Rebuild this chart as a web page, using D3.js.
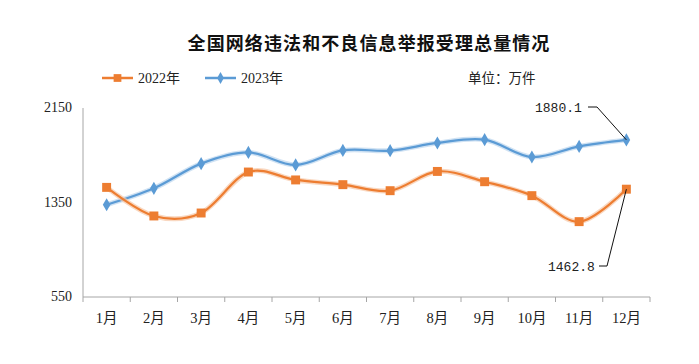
<!DOCTYPE html>
<html lang="zh">
<head>
<meta charset="utf-8">
<title>举报受理总量</title>
<script src="https://d3js.org/d3.v7.min.js"></script>
<style>
  body { margin: 0; background: #fff; }
  svg { display: block; }
</style>
</head>
<body>
<div id="chart"></div>
<script>

// data (万件)
var months = ["1月","2月","3月","4月","5月","6月","7月","8月","9月","10月","11月","12月"];
var y2022 = [1478, 1236, 1261, 1608, 1541, 1501, 1450, 1613, 1526, 1408, 1188, 1462.8];
var y2023 = [1331, 1470, 1679, 1774, 1668, 1791, 1789, 1854, 1882, 1735, 1825, 1880.1];
var yTicks = [550, 1350, 2150];

var W = 699, H = 364;
var margin = {top: 108, right: 49, bottom: 67, left: 83},
    width = W - margin.left - margin.right,
    height = H - margin.top - margin.bottom;

var svg = d3.select("#chart").append("svg")
    .attr("width", W)
    .attr("height", H);

var g = svg.append("g")
    .attr("transform", "translate(" + margin.left + "," + margin.top + ")");

// scales
var x = d3.scaleBand().domain(months).range([0, width]);
var y = d3.scaleLinear().domain([550, 2150]).range([height, 0]);

var serif = "'Liberation Serif','Noto Sans CJK SC',serif";

// title
svg.append("text")
    .attr("x", 369).attr("y", 50)
    .attr("text-anchor", "middle")
    .style("font-family", "'Noto Sans CJK SC',sans-serif")
    .style("font-weight", "bold")
    .style("font-size", "18px")
    .style("letter-spacing", "1.1px")
    .style("fill", "#111")
    .text("全国网络违法和不良信息举报受理总量情况");

// legend
var legend = [
  {name: "2022年", color: "#ED7D31", shape: d3.symbolSquare, size: 60, x: 102},
  {name: "2023年", color: "#5B9BD5", shape: d3.symbolDiamond, size: 40, x: 205}
];
var lg = svg.selectAll(".lg").data(legend).enter().append("g")
    .attr("transform", function(d) { return "translate(" + d.x + ",78)"; });
lg.append("line")
    .attr("x1", 0).attr("x2", 31)
    .attr("stroke", function(d) { return d.color; })
    .attr("stroke-width", 2.5);
lg.append("path")
    .attr("transform", "translate(15.5,0)")
    .attr("d", function(d) { return d3.symbol().type(d.shape).size(d.size)(); })
    .attr("fill", function(d) { return d.color; });
lg.append("text")
    .attr("x", 36).attr("y", 5)
    .style("font-family", serif)
    .style("font-size", "14px")
    .style("fill", "#222")
    .text(function(d) { return d.name; });

svg.append("text")
    .attr("x", 468).attr("y", 83)
    .style("font-family", "'Noto Sans CJK SC',sans-serif")
    .style("font-size", "13.5px")
    .style("fill", "#222")
    .text("单位：万件");

// axes
g.append("line")
    .attr("x1", 0).attr("x2", 0).attr("y1", 0).attr("y2", height)
    .attr("stroke", "#a6a6a6");
g.append("line")
    .attr("x1", 0).attr("x2", width).attr("y1", height).attr("y2", height)
    .attr("stroke", "#a6a6a6");
g.selectAll(".xtick")
    .data(d3.range(months.length + 1))
    .enter().append("line")
    .attr("x1", function(i) { return i * x.bandwidth(); })
    .attr("x2", function(i) { return i * x.bandwidth(); })
    .attr("y1", height).attr("y2", height + 5)
    .attr("stroke", "#a6a6a6");

g.selectAll(".ylab")
    .data(yTicks)
    .enter().append("text")
    .attr("x", -11)
    .attr("y", function(d) { return y(d) + 4; })
    .attr("text-anchor", "end")
    .style("font-family", serif)
    .style("font-size", "14px")
    .style("fill", "#222")
    .text(function(d) { return d; });

g.selectAll(".xlab")
    .data(months)
    .enter().append("text")
    .attr("x", function(d) { return x(d) + x.bandwidth() / 2; })
    .attr("y", height + 26)
    .attr("text-anchor", "middle")
    .style("font-family", serif)
    .style("font-size", "14.5px")
    .style("fill", "#222")
    .text(function(d) { return d; });

// lines
var line = d3.line()
    .x(function(d, i) { return x(months[i]) + x.bandwidth() / 2; })
    .y(function(d) { return y(d); })
    .curve(d3.curveCatmullRom.alpha(0));

var series = [
  {values: y2023, color: "#5B9BD5", glow: "#bcd6ee", shape: d3.symbolDiamond, size: 50},
  {values: y2022, color: "#ED7D31", glow: "#f7c7a6", shape: d3.symbolSquare, size: 80}
];

series.forEach(function(s) {
  g.append("path")
      .attr("d", line(s.values))
      .attr("fill", "none")
      .attr("stroke", s.glow)
      .attr("stroke-opacity", 0.7)
      .attr("stroke-width", 5);
  g.append("path")
      .attr("d", line(s.values))
      .attr("fill", "none")
      .attr("stroke", s.color)
      .attr("stroke-width", 2.2);
  g.selectAll(null)
      .data(s.values)
      .enter().append("path")
      .attr("transform", function(d, i) {
        return "translate(" + (x(months[i]) + x.bandwidth() / 2) + "," + y(d) + ")";
      })
      .attr("d", d3.symbol().type(s.shape).size(s.size)())
      .attr("fill", s.color);
});

// data labels with leader lines for December
var lastX = x(months[11]) + x.bandwidth() / 2;
var labels = [
  {v: y2023[11], tx: 535, ty: 112, lx: 588, ly: 107, kx: 597},
  {v: y2022[11], tx: 548, ty: 271, lx: 599, ly: 266, kx: 607}
];
labels.forEach(function(l) {
  svg.append("text")
      .attr("x", l.tx).attr("y", l.ty)
      .style("font-family", "'Liberation Mono',monospace")
      .style("font-size", "13px")
      .style("fill", "#222")
      .text(l.v.toFixed(1));
  svg.append("polyline")
      .attr("points", [l.lx, l.ly, l.kx, l.ly, margin.left + lastX, margin.top + y(l.v)].join(","))
      .attr("fill", "none")
      .attr("stroke", "#111")
      .attr("stroke-width", 1);
});

</script>
</body>
</html>
